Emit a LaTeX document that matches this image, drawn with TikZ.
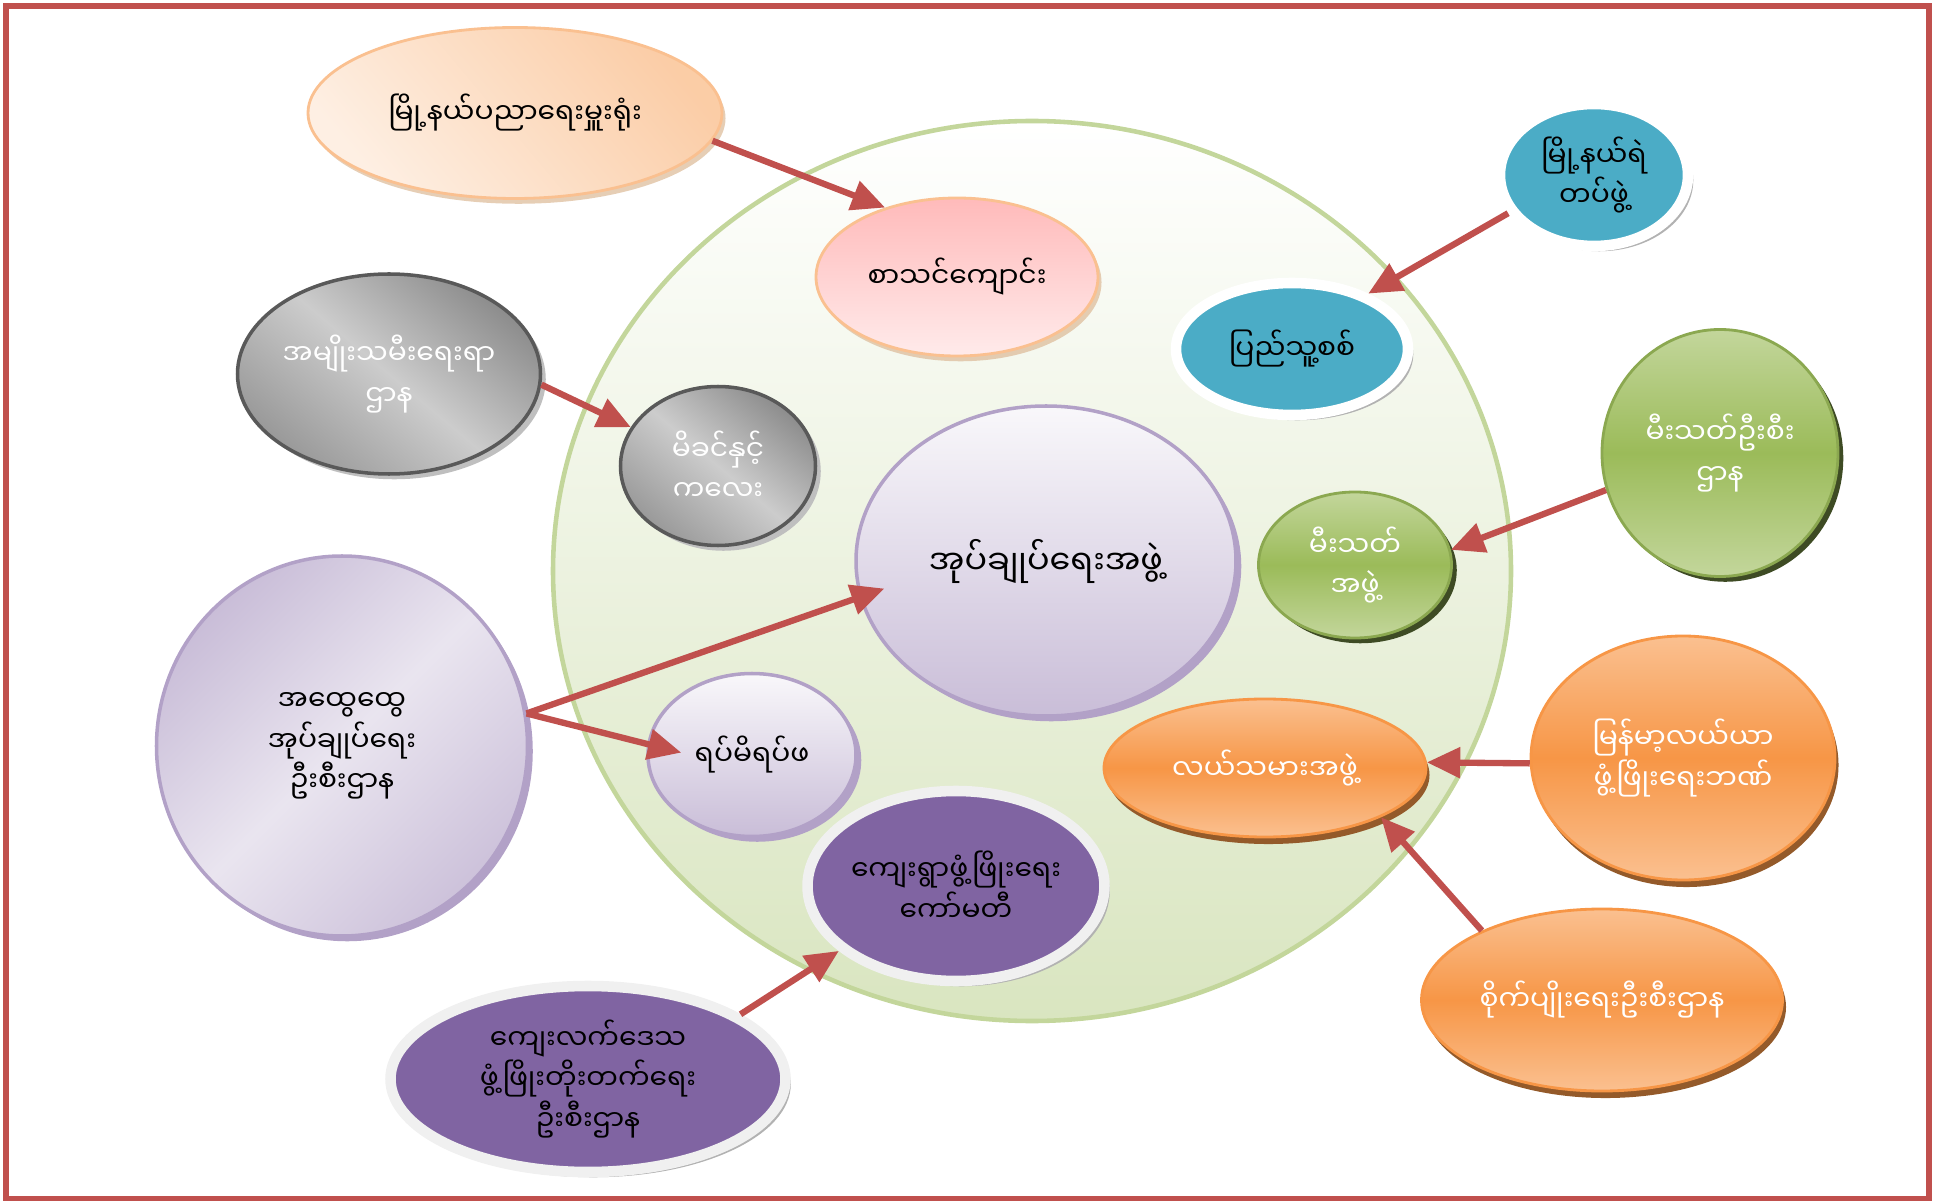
\documentclass[tikz,border=0pt]{standalone}
\usepackage{fontspec}
\usepackage{tikz}
\usetikzlibrary{shapes.geometric,shadows,arrows.meta}
\newfontfamily\mmfont[Script=Myanmar]{Noto Sans Myanmar UI}

\definecolor{linkred}{HTML}{C0504D}
\definecolor{peach}{HTML}{FAC090}
\definecolor{teal}{HTML}{4BACC6}
\definecolor{lilac}{HTML}{B2A1C7}
\definecolor{leaf}{HTML}{9BBB59}
\definecolor{tang}{HTML}{F79646}
\definecolor{plum}{HTML}{8064A2}

\begin{document}
\begin{tikzpicture}[thick, >={Triangle[length=9.5pt,width=8.5pt]},
  every node/.style={ellipse, inner sep=0pt, align=center,
    font=\mmfont\fontsize{8}{11.5}\selectfont},
  peachbub/.style={draw=peach, line width=0.8pt, top color=peach!80, bottom color=peach!25,
    shading angle=-50, drop shadow={shadow xshift=1pt, shadow yshift=-1.5pt, fill=brown!55, opacity=.7}},
  tealbub/.style={draw=white, line width=3pt, fill=teal,
    drop shadow={shadow xshift=1.5pt, shadow yshift=-1.5pt, fill=gray!60, opacity=1}},
  greybub/.style={draw=black!65, line width=1pt, text=white, top color=black!45, bottom color=black!40,
    middle color=black!20, shading angle=-40,
    drop shadow={shadow xshift=1.5pt, shadow yshift=-1.5pt, fill=gray!50, opacity=1}},
  lilacbub/.style={draw=lilac, line width=1pt, top color=lilac!8, bottom color=lilac!70,
    drop shadow={shadow xshift=1.5pt, shadow yshift=-1.5pt, fill=lilac, opacity=1}},
  greenbub/.style={draw=leaf!90!black, line width=0.8pt, text=white, top color=leaf!60,
    bottom color=leaf!60, middle color=leaf,
    drop shadow={shadow xshift=1.5pt, shadow yshift=-1.5pt, fill=leaf!40!black, opacity=1}},
  orangebub/.style={draw=tang, line width=0.8pt, text=white, top color=tang!60,
    bottom color=tang!60, middle color=tang,
    drop shadow={shadow xshift=1pt, shadow yshift=-2pt, fill=tang!60!black, opacity=1}},
  plumbub/.style={draw=white!94!black, line width=3pt, fill=plum,
    drop shadow={shadow xshift=1.5pt, shadow yshift=-1.5pt, fill=gray!60, opacity=1}},
  link/.style={->, draw=linkred, line width=1.8pt}]

  \useasboundingbox (0,0) rectangle (19.39,12);
  \draw[linkred, line width=1.7pt] (0.06,0.01) rectangle (19.29,11.94);

  % big background circle
  \draw[draw=leaf!60, line width=1.3pt, top color=white, bottom color=leaf!38]
    (10.32,6.29) ellipse [x radius=4.79, y radius=4.50];

  \node[peachbub, minimum width=4.14cm, minimum height=1.71cm] (A) at (5.15,10.87) {မြို့နယ်ပညာရေးမှူးရုံး};
  \node[peachbub, top color=red!27, bottom color=red!8, minimum width=2.82cm, minimum height=1.58cm] (B) at (9.57,9.23) {စာသင်ကျောင်း};
  \node[tealbub, minimum width=1.88cm, minimum height=1.42cm] (C) at (15.94,10.25) {မြို့နယ်ရဲ\\တပ်ဖွဲ့};
  \node[tealbub, minimum width=2.32cm, minimum height=1.32cm] (D) at (12.92,8.51) {ပြည်သူ့စစ်};

  \node[greybub, minimum width=3.03cm, minimum height=2.00cm] (E) at (3.89,8.26) {အမျိုးသမီးရေးရာ\\ဌာန};
  \node[greybub, minimum width=1.95cm, minimum height=1.59cm] (F) at (7.18,7.34) {မိခင်နှင့်\\ကလေး};

  \node[lilacbub, font=\mmfont\fontsize{9.5}{13}\selectfont, minimum width=3.80cm, minimum height=3.10cm] (G) at (10.46,6.39) {အုပ်ချုပ်ရေးအဖွဲ့};

  \node[greenbub, minimum width=1.93cm, minimum height=1.46cm] (H) at (13.55,6.35) {မီးသတ်\\အဖွဲ့};
  \node[greenbub, minimum width=2.36cm, minimum height=2.47cm] (I) at (17.20,7.47) {မီးသတ်ဦးစီး\\ဌာန};

  \node[lilacbub, top color=lilac!70, bottom color=lilac!65, middle color=lilac!28, shading angle=45,
    minimum width=3.71cm, minimum height=3.80cm] (J) at (3.42,4.54) {အထွေထွေ\\အုပ်ချုပ်ရေး\\ဦးစီးဌာန};
  \node[lilacbub, minimum width=2.08cm, minimum height=1.63cm] (K) at (7.52,4.45) {ရပ်မိရပ်ဖ};

  \node[orangebub, minimum width=3.22cm, minimum height=1.38cm] (L) at (12.65,4.32) {လယ်သမားအဖွဲ့};
  \node[orangebub, minimum width=3.04cm, minimum height=2.44cm] (M) at (16.83,4.42) {မြန်မာ့လယ်ယာ\\ဖွံ့ဖြိုးရေးဘဏ်};

  \node[plumbub, minimum width=2.94cm, minimum height=1.90cm] (N) at (9.56,3.14) {ကျေးရွာဖွံ့ဖြိုးရေး\\ကော်မတီ};
  \node[plumbub, minimum width=3.95cm, minimum height=1.86cm] (O) at (5.88,1.21) {ကျေးလက်ဒေသ\\ဖွံ့ဖြိုးတိုးတက်ရေး\\ဦးစီးဌာန};
  \node[orangebub, minimum width=3.61cm, minimum height=1.82cm] (P) at (16.02,2.00) {စိုက်ပျိုးရေးဦးစီးဌာန};

  % arrows
  \draw[link] (A.-8) to (B.136);
  \draw[link] (C.204) to (D.36);
  \draw[link] (E.-4) to (F.156);
  \draw[link] (I.198) to (H.9);
  \draw[link, shorten >=-7.5pt] (J.10) to (G.191);
  \draw[link, shorten >=-10pt] (J.10) to (K.174);
  \draw[link] (M.182) to (L.2);
  \draw[link] (P.150) to (L.-23);
  \draw[link] (O.23) to (N.209);
\end{tikzpicture}
\end{document}
